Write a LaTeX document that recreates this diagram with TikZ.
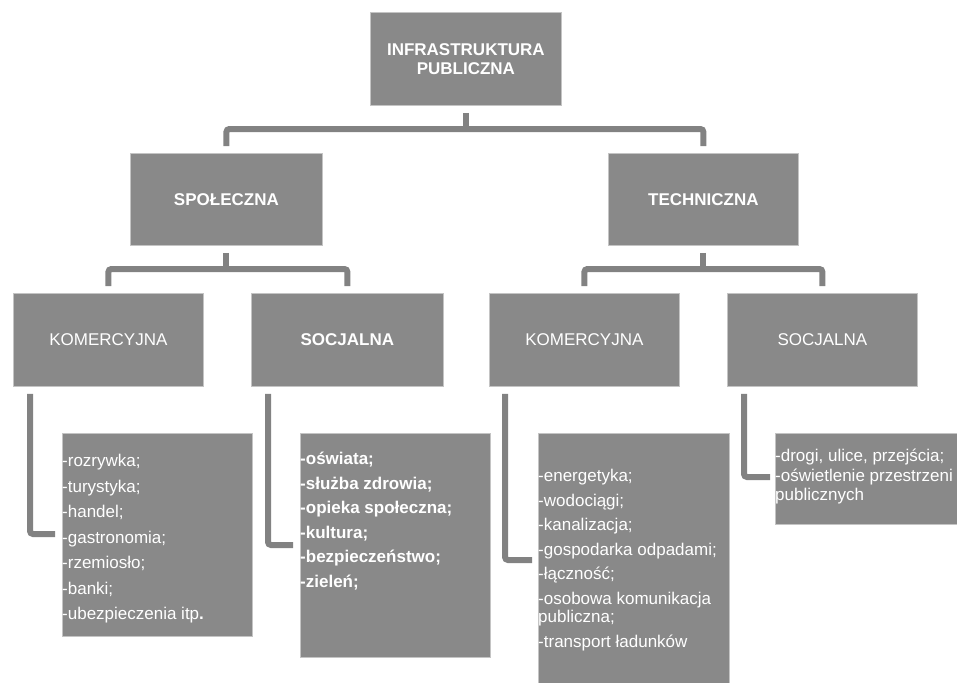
\documentclass[tikz,border=0pt]{standalone}
\usepackage{fontspec}
\setmainfont{Liberation Sans}
\usepackage{tikz}
\usetikzlibrary{scopes,positioning,calc}
\definecolor{boxgray}{HTML}{898989}
\definecolor{edgegray}{HTML}{C4C4C4}
\tikzset{
  mybox/.style={draw=edgegray,line width=0.8pt,fill=boxgray,text=white,anchor=north west,
    minimum width=191pt,minimum height=93pt,inner sep=0pt,align=center,
    font=\fontsize{17}{19}\selectfont},
  mybold/.style={mybox,font=\fontsize{17}{19}\selectfont\bfseries},
  mylist/.style={anchor=north west,inner sep=0pt,align=left,text=white,
    font=\fontsize{17}{18.5}\selectfont},
  myconn/.style={draw=boxgray!95!black,line width=6pt,rounded corners=3pt}
}

\begin{document}
\begin{tikzpicture}[x=1pt,y=-1pt]
  \useasboundingbox (0,0) rectangle (957,682);
  % upper levels
  \node[mybold] (infra) at (370,12) {INFRASTRUKTURA\\PUBLICZNA};
  \node[mybold,minimum width=192pt,minimum height=92pt] (spol) at (130,153) {SPOŁECZNA};
  \node[mybold,minimum width=190pt,minimum height=92pt] (tech) at (608,153) {TECHNICZNA};
  \node[mybox,minimum width=190pt] (skom) at (13,293) {KOMERCYJNA};
  \node[mybold,minimum width=192pt] (ssoc) at (251,293) {SOCJALNA};
  \node[mybox,minimum width=190pt] (tkom) at (489,293) {KOMERCYJNA};
  \node[mybox,minimum width=190pt] (tsoc) at (727,293) {SOCJALNA};
  % list boxes
  \node[mybox,minimum width=190pt,minimum height=203pt] (lsk) at (62,433) {};
  \node[mybox,minimum width=190pt,minimum height=224pt] (lss) at (300,433) {};
  \node[mybox,minimum width=191pt,minimum height=260pt] (ltk) at (538,433) {};
  \node[mybox,minimum width=184pt,minimum height=91pt] (lts) at (775,433) {};
  \node[mylist] (xsk) at (lsk.north west |- 0,454)
    {-rozrywka;\\[7pt]-turystyka;\\[7pt]-handel;\\[7pt]-gastronomia;\\[7pt]-rzemiosło;\\[7pt]-banki;\\[7pt]-ubezpieczenia itp\textbf{.}};
  \node[mylist,font=\fontsize{17}{18.5}\selectfont\bfseries] (xss) at (lss.north west |- 0,452)
    {-oświata;\\[6pt]-służba zdrowia;\\[6pt]-opieka społeczna;\\[6pt]-kultura;\\[6pt]-bezpieczeństwo;\\[6pt]-zieleń;};
  \node[mylist] (xtk) at (ltk.north west |- 0,469)
    {-energetyka;\\[6pt]-wodociągi;\\[6pt]-kanalizacja;\\[6pt]-gospodarka odpadami;\\[6pt]-łączność;\\[6pt]-osobowa komunikacja\\publiczna;\\[6pt]-transport ładunków};
  \node[mylist] (xts) at (lts.north west |- 0,449)
    {-drogi, ulice, przejścia;\\[1.5pt]-oświetlenie przestrzeni\\publicznych};
  % connectors
  {[myconn]
    \draw ($(infra.south)+(0,7)$) -- (infra.south |- 0,129);
    \draw ($(spol.north)+(0,-7)$) -- (spol.north |- 0,129) -- (tech.north |- 0,129) -- ($(tech.north)+(0,-7)$);
    \draw ($(spol.south)+(0,7)$) -- (spol.south |- 0,269);
    \draw ($(tech.south)+(0,7)$) -- (tech.south |- 0,269);
    \draw ($(skom.north)+(0,-7)$) -- (skom.north |- 0,269) -- (ssoc.north |- 0,269) -- ($(ssoc.north)+(0,-7)$);
    \draw ($(tkom.north)+(0,-7)$) -- (tkom.north |- 0,269) -- (tsoc.north |- 0,269) -- ($(tsoc.north)+(0,-7)$);
    \draw ($(skom.south west)+(17,7)$) |- ($(lsk.west |- 0,534)+(-7,0)$);
    \draw ($(ssoc.south west)+(17,7)$) |- ($(lss.west |- 0,545)+(-7,0)$);
    \draw ($(tkom.south west)+(16,7)$) |- ($(ltk.west |- 0,560)+(-6,0)$);
    \draw ($(tsoc.south west)+(17,7)$) |- ($(lts.west |- 0,477)+(-5,0)$);
  }
\end{tikzpicture}
\end{document}
